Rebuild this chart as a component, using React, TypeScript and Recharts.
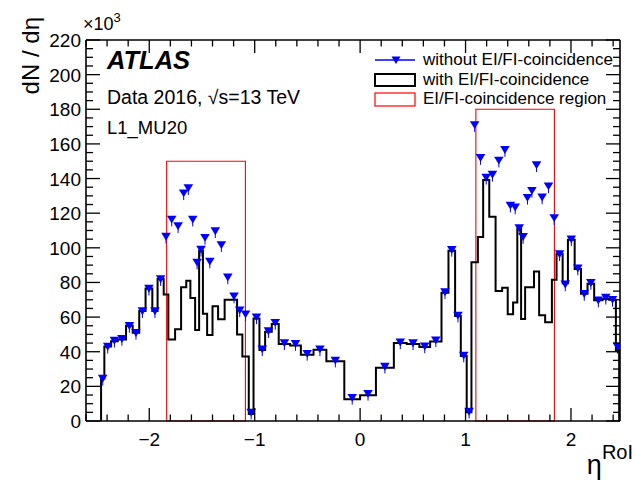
import React from 'react';
import { ComposedChart, Line, Scatter, XAxis, YAxis, ReferenceArea } from 'recharts';

// eta^RoI bin edges (variable-width bins)
const binEdges = [
  -2.457, -2.426, -2.362, -2.299, -2.22, -2.157, -2.095, -2.035, -1.971, -1.921,
  -1.863, -1.819, -1.755, -1.698, -1.649, -1.61, -1.565, -1.527, -1.491, -1.451,
  -1.4, -1.347, -1.285, -1.225, -1.167, -1.117, -1.056, -1.011, -0.955, -0.901,
  -0.838, -0.772, -0.664, -0.562, -0.442, -0.32, -0.15, 0, 0.15, 0.32,
  0.442, 0.562, 0.664, 0.772, 0.838, 0.901, 0.955, 1.011, 1.056, 1.117,
  1.167, 1.225, 1.285, 1.347, 1.4, 1.451, 1.491, 1.527, 1.565, 1.61,
  1.649, 1.698, 1.755, 1.819, 1.863, 1.921, 1.971, 2.035, 2.095, 2.157,
  2.22, 2.299, 2.362, 2.426, 2.457,
];

// dN/deta [x10^3] with EI/FI-coincidence (black histogram)
const withCoinc = [
  24.5, 43, 46, 47, 55, 51, 63.5, 76.5, 63.5, 82,
  73, 47, 53, 77.3, 81, 71, 52.6, 98.3, 62, 49.7,
  66.3, 58.7, 70, 70, 50, 37.3, 4, 59.2, 41, 51.6,
  56, 44.4, 43.6, 38.3, 41.1, 34.5, 12.6, 14.9, 30.7, 45,
  44.4, 42.7, 45.9, 74, 98.3, 60.6, 37.5, 5, 91.6, 106.3,
  139.2, 117.9, 75, 77, 61.7, 68.4, 111.2, 58.9, 77.3, 77.3,
  86.3, 61, 57, 81.5, 96.4, 79.6, 104.6, 87.8, 73.5, 79.2,
  69.7, 70.5, 70, 41,
];

// dN/deta [x10^3] without EI/FI-coincidence (blue triangles)
const withoutCoinc = [
  24.5, 43, 46.5, 47.5, 55, 51, 63.5, 76.5, 63.5, 82,
  106.5, 116.4, 112.6, 131.6, 134.5, 116.4, 91.6, 99, 105.9, 92.2,
  109.7, 101.7, 83, 72, 64, 61.7, 5, 60, 41.5, 52,
  56.8, 45, 44.6, 38.9, 41.5, 35, 13.5, 15.8, 31.5, 45.5,
  45, 43.2, 46.7, 74.5, 98.9, 61, 37.9, 5.5, 171, 152,
  140.6, 142.3, 150.5, 156.6, 124.5, 123.4, 111.5, 106.4, 129, 133,
  147.8, 129.2, 135.6, 117.3, 96.4, 79, 105, 88.2, 73.5, 79.8,
  69.7, 71.3, 70.1, 43,
];

// EI/FI-coincidence regions
const regionLow = [-1.835, 1.098];
const regionHigh = [-1.088, 1.843];
const regionTop = [150, 180];

const xTicks = [
  -2.6, -2.4, -2.2, -2, -1.8, -1.6, -1.4, -1.2, -1, -0.8, -0.6, -0.4, -0.2,
  0, 0.2, 0.4, 0.6, 0.8, 1, 1.2, 1.4, 1.6, 1.8, 2, 2.2, 2.4,
];
const yTicks = [
  0, 5, 10, 15, 20, 25, 30, 35, 40, 45, 50, 55, 60, 65, 70, 75, 80, 85, 90, 95, 100,
  105, 110, 115, 120, 125, 130, 135, 140, 145, 150, 155, 160, 165, 170, 175, 180,
  185, 190, 195, 200, 205, 210, 215, 220,
];

const FONT = 'Liberation Sans, Arial, Helvetica, sans-serif';

const histData: { x: number; y: number }[] = [];
histData.push({ x: binEdges[0], y: 0 });
withCoinc.forEach((v, i) => histData.push({ x: binEdges[i], y: v }));
histData.push({ x: binEdges[binEdges.length - 1], y: withCoinc[withCoinc.length - 1] });
histData.push({ x: binEdges[binEdges.length - 1], y: 0 });

const triData = withoutCoinc.map((v, i) => ({ x: (binEdges[i] + binEdges[i + 1]) / 2, y: v }));

const isMajorX = (v: number) => Math.abs(v - Math.round(v)) < 1e-6;
const isMajorY = (v: number) => Math.abs(v % 20) < 1e-6;
const fmt = (v: number) => (v < 0 ? '\u2212' + Math.abs(v) : String(v));

const XTick = (props: any) => {
  const { x, y, payload, top } = props;
  const major = isMajorX(payload.value);
  const len = major ? 13 : 6.5;
  return (
    <g>
      <line x1={x} x2={x} y1={y} y2={top ? y + len : y - len} stroke="#000" strokeWidth={1.3} />
      {!top && major && (
        <text x={x} y={y + 25} textAnchor="middle" fontSize={19} fontFamily={FONT} fill="#000">
          {fmt(payload.value)}
        </text>
      )}
    </g>
  );
};

const YTick = (props: any) => {
  const { x, y, payload, right } = props;
  const major = isMajorY(payload.value);
  const len = major ? 14 : 7;
  return (
    <g>
      <line x1={x} x2={right ? x - len : x + len} y1={y} y2={y} stroke="#000" strokeWidth={1.3} />
      {!right && major && (
        <text x={x - 5} y={y + 7} textAnchor="end" fontSize={19} fontFamily={FONT} fill="#000">
          {payload.value}
        </text>
      )}
    </g>
  );
};

const Tri = (props: any) => {
  const { cx, cy } = props;
  return (
    <g>
      <line x1={cx} x2={cx} y1={cy} y2={cy + 7} stroke="#0000ff" strokeWidth={1} />
      <path d={`M${cx - 4.8},${cy - 3.7} L${cx + 4.8},${cy - 3.7} L${cx},${cy + 4.2} Z`} fill="#0000ff" />
    </g>
  );
};

export default function App() {
  return (
    <div style={{ position: 'absolute', left: 0, top: 0, width: 635, height: 481, background: '#fff' }}>
      <ComposedChart width={635} height={481} margin={{ top: 30, right: 5, bottom: 30, left: 56 }}>
        <XAxis
          xAxisId="b"
          type="number"
          dataKey="x"
          domain={[-2.6, 2.465]}
          allowDataOverflow
          ticks={xTicks}
          interval={0}
          height={30}
          tickSize={0}
          tickMargin={0}
          tickLine={false}
          axisLine={{ stroke: '#000', strokeWidth: 1.6 }}
          tick={(p: any) => <XTick {...p} />}
        />
        <XAxis
          xAxisId="t"
          orientation="top"
          type="number"
          dataKey="x"
          domain={[-2.6, 2.465]}
          allowDataOverflow
          ticks={xTicks}
          interval={0}
          height={10}
          tickSize={0}
          tickMargin={0}
          tickLine={false}
          axisLine={{ stroke: '#000', strokeWidth: 1.6 }}
          tick={(p: any) => <XTick {...p} top />}
        />
        <YAxis
          yAxisId="l"
          type="number"
          domain={[0, 220]}
          allowDataOverflow
          ticks={yTicks}
          interval={0}
          width={30}
          tickSize={0}
          tickMargin={0}
          tickLine={false}
          axisLine={{ stroke: '#000', strokeWidth: 1.6 }}
          tick={(p: any) => <YTick {...p} />}
        />
        <YAxis
          yAxisId="r"
          orientation="right"
          type="number"
          domain={[0, 220]}
          allowDataOverflow
          ticks={yTicks}
          interval={0}
          width={10}
          tickSize={0}
          tickMargin={0}
          tickLine={false}
          axisLine={{ stroke: '#000', strokeWidth: 1.6 }}
          tick={(p: any) => <YTick {...p} right />}
        />
        {regionLow.map((lo, i) => (
          <ReferenceArea
            key={'r' + i}
            xAxisId="b"
            yAxisId="l"
            x1={lo}
            x2={regionHigh[i]}
            y1={0}
            y2={regionTop[i]}
            fill="none"
            fillOpacity={0}
            stroke="#ff0000"
            strokeWidth={1.1}
            ifOverflow="visible"
          />
        ))}
        <Line
          xAxisId="b"
          yAxisId="l"
          data={histData}
          dataKey="y"
          type="stepAfter"
          stroke="#000"
          strokeWidth={2}
          dot={false}
          isAnimationActive={false}
        />
        <Scatter
          xAxisId="b"
          yAxisId="l"
          data={triData}
          dataKey="y"
          fill="#0000ff"
          shape={(p: any) => <Tri {...p} />}
          isAnimationActive={false}
        />
      </ComposedChart>
      <svg
        width={635}
        height={481}
        style={{ position: 'absolute', left: 0, top: 0, pointerEvents: 'none' }}
        fontFamily={FONT}
      >
        <text x={83} y={30} fontSize={18} fill="#000">
          ×10<tspan dy={-8} fontSize={13}>3</tspan>
        </text>
        <text transform="translate(39,17) rotate(-90)" textAnchor="end" fontSize={24} fill="#000">
          dN / dη
        </text>
        <text x={633} y={474} textAnchor="end" fontSize={27} fill="#000">
          η<tspan dy={-15} fontSize={20}>RoI</tspan>
        </text>
        <text x={107} y={69} fontSize={25.5} fontWeight="bold" fontStyle="italic" fill="#000">ATLAS</text>
        <text x={107} y={104} fontSize={19.5} fill="#000">Data 2016, √s=13 TeV</text>
        <text x={107} y={134} fontSize={18.5} fill="#000">L1_MU20</text>
        <line x1={375} x2={415} y1={60} y2={60} stroke="#0000ff" strokeWidth={1.3} />
        <path d="M391.5,56.5 L400.5,56.5 L396,64 Z" fill="#0000ff" />
        <text x={423} y={64.5} fontSize={17} fill="#000">without EI/FI-coincidence</text>
        <rect x={375} y={74} width={40} height={12} fill="none" stroke="#000" strokeWidth={2} />
        <text x={423} y={85} fontSize={17} fill="#000">with EI/FI-coincidence</text>
        <rect x={375} y={93} width={40} height={13} fill="none" stroke="#ff0000" strokeWidth={1.2} />
        <text x={423} y={104} fontSize={17} fill="#000">EI/FI-coincidence region</text>
      </svg>
    </div>
  );
}
